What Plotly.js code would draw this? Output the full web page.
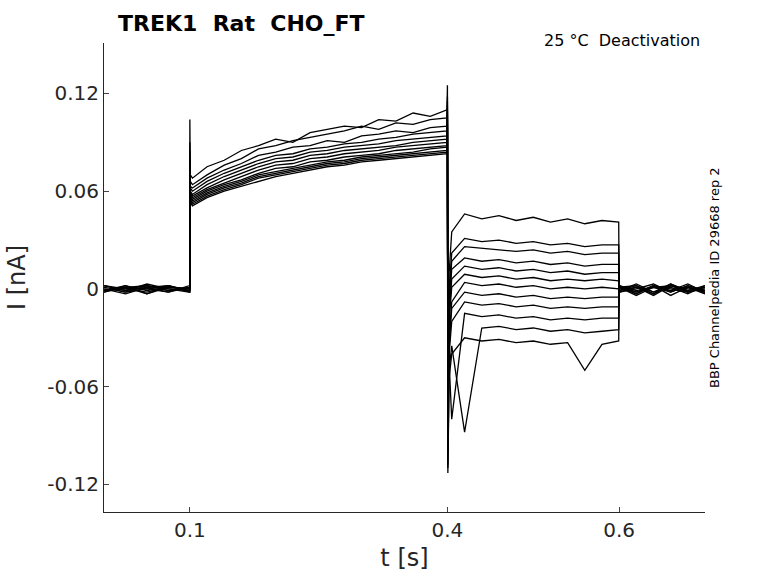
<!DOCTYPE html>
<html>
<head>
<meta charset="utf-8">
<script src="https://cdn.plot.ly/plotly-3.0.1.min.js"></script>
<style>body{margin:0;background:#fff}</style>
</head>
<body>
<div id="chart" style="width:778px;height:583px"></div>
<script>
// time points (s), shared by every sweep
const timeS = [0, 0.025, 0.05, 0.075, 0.0999, 0.1, 0.1005, 0.103, 0.12, 0.14, 0.16, 0.18, 0.2, 0.22, 0.24, 0.26, 0.28, 0.3, 0.32, 0.34, 0.36, 0.38,
  0.3995, 0.4, 0.4005, 0.402, 0.405, 0.42, 0.44, 0.46, 0.48, 0.5, 0.52, 0.54, 0.56, 0.58, 0.5995, 0.6, 0.62, 0.64, 0.66, 0.68, 0.7];

// current (nA) per sweep
const sweep1 = [0.002, -0.001, 0.003, 0.000, -0.002, 0.104, 0.070, 0.068, 0.075, 0.079, 0.085, 0.088, 0.092, 0.090, 0.096, 0.098, 0.100, 0.099, 0.104, 0.103, 0.108, 0.106,
  0.110, 0.125, -0.110, 0.010, 0.035, 0.046, 0.043, 0.045, 0.042, 0.044, 0.041, 0.043, 0.040, 0.042, 0.041, 0.002, -0.003, 0.002, -0.004, 0.001, -0.002];
const sweep2 = [-0.001, 0.002, -0.003, 0.001, 0.000, 0.090, 0.066, 0.064, 0.070, 0.076, 0.080, 0.086, 0.088, 0.091, 0.093, 0.095, 0.097, 0.100, 0.098, 0.102, 0.101, 0.104,
  0.105, 0.118, -0.100, 0.000, 0.022, 0.031, 0.029, 0.030, 0.028, 0.029, 0.027, 0.028, 0.026, 0.027, 0.027, 0.001, 0.002, -0.003, 0.003, -0.001, 0.001];
const sweep3 = [0.001, -0.002, 0.000, 0.002, -0.001, 0.085, 0.063, 0.062, 0.068, 0.073, 0.077, 0.082, 0.084, 0.087, 0.088, 0.091, 0.090, 0.094, 0.095, 0.097, 0.096, 0.099,
  0.100, 0.115, -0.095, -0.005, 0.017, 0.026, 0.025, 0.024, 0.023, 0.024, 0.022, 0.023, 0.021, 0.022, 0.022, -0.002, 0.000, 0.003, -0.002, 0.002, -0.003];
const sweep4 = [-0.002, 0.001, 0.002, -0.001, 0.001, 0.080, 0.062, 0.060, 0.066, 0.071, 0.075, 0.079, 0.082, 0.083, 0.086, 0.087, 0.089, 0.090, 0.092, 0.093, 0.095, 0.096,
  0.097, 0.112, -0.090, -0.010, 0.012, 0.019, 0.017, 0.018, 0.016, 0.017, 0.015, 0.016, 0.014, 0.015, 0.015, 0.001, -0.004, 0.001, 0.002, -0.002, 0.000];
const sweep5 = [0.000, -0.003, 0.001, 0.002, -0.002, 0.078, 0.060, 0.058, 0.064, 0.069, 0.073, 0.077, 0.080, 0.081, 0.084, 0.085, 0.087, 0.088, 0.089, 0.091, 0.092, 0.093,
  0.094, 0.110, -0.085, -0.015, 0.006, 0.014, 0.012, 0.013, 0.011, 0.012, 0.010, 0.011, 0.009, 0.010, 0.010, -0.001, 0.003, -0.002, 0.001, -0.003, 0.002];
const sweep6 = [0.002, 0.000, -0.002, 0.001, 0.000, 0.076, 0.059, 0.057, 0.062, 0.067, 0.071, 0.075, 0.078, 0.079, 0.082, 0.083, 0.085, 0.086, 0.087, 0.088, 0.090, 0.091,
  0.092, 0.108, -0.080, -0.020, 0.001, 0.009, 0.007, 0.008, 0.006, 0.007, 0.005, 0.006, 0.005, 0.006, 0.005, 0.002, -0.002, 0.001, -0.001, 0.003, -0.002];
const sweep7 = [-0.001, 0.001, 0.000, -0.002, 0.002, 0.074, 0.058, 0.056, 0.061, 0.065, 0.069, 0.073, 0.076, 0.077, 0.080, 0.081, 0.083, 0.084, 0.085, 0.087, 0.088, 0.089,
  0.090, 0.106, -0.075, -0.030, -0.008, 0.004, 0.002, 0.003, 0.001, 0.002, 0.000, 0.001, 0.000, 0.001, 0.000, -0.002, 0.001, -0.003, 0.002, 0.000, -0.001];
const sweep8 = [0.001, -0.002, 0.002, 0.000, -0.001, 0.072, 0.057, 0.055, 0.060, 0.064, 0.067, 0.071, 0.074, 0.075, 0.078, 0.079, 0.081, 0.082, 0.083, 0.085, 0.086, 0.087,
  0.088, 0.104, -0.070, -0.035, -0.012, -0.002, -0.004, -0.003, -0.005, -0.004, -0.006, -0.005, -0.006, -0.005, -0.005, 0.001, -0.002, 0.002, -0.001, 0.001, -0.003];
const sweep9 = [-0.002, 0.002, -0.001, 0.001, 0.000, 0.070, 0.056, 0.054, 0.059, 0.063, 0.066, 0.070, 0.072, 0.074, 0.076, 0.078, 0.079, 0.081, 0.082, 0.083, 0.084, 0.086,
  0.087, 0.102, -0.065, -0.040, -0.020, -0.008, -0.010, -0.009, -0.011, -0.010, -0.012, -0.011, -0.012, -0.011, -0.011, -0.001, 0.002, -0.002, 0.003, -0.002, 0.001];
const sweep10 = [0.000, 0.001, -0.003, 0.002, -0.001, 0.068, 0.055, 0.053, 0.058, 0.062, 0.065, 0.069, 0.071, 0.073, 0.075, 0.077, 0.078, 0.080, 0.081, 0.082, 0.083, 0.084,
  0.085, 0.100, -0.060, -0.045, -0.080, -0.015, -0.017, -0.016, -0.018, -0.017, -0.019, -0.018, -0.019, -0.018, -0.018, 0.002, -0.001, 0.001, -0.002, 0.002, -0.001];
const sweep11 = [0.002, -0.001, 0.001, -0.002, 0.001, 0.066, 0.054, 0.052, 0.057, 0.061, 0.064, 0.068, 0.070, 0.072, 0.074, 0.076, 0.077, 0.079, 0.080, 0.081, 0.082, 0.083,
  0.084, 0.098, -0.108, -0.050, -0.035, -0.088, -0.024, -0.023, -0.025, -0.024, -0.026, -0.025, -0.027, -0.026, -0.025, -0.001, 0.001, -0.004, 0.002, -0.001, 0.002];
const sweep12 = [-0.001, 0.000, 0.002, -0.001, 0.001, 0.064, 0.053, 0.051, 0.056, 0.060, 0.063, 0.066, 0.069, 0.071, 0.073, 0.075, 0.076, 0.078, 0.079, 0.080, 0.081, 0.082,
  0.083, 0.096, -0.113, -0.055, -0.040, -0.030, -0.032, -0.031, -0.033, -0.032, -0.034, -0.033, -0.050, -0.034, -0.032, 0.001, -0.003, 0.002, 0.000, -0.002, 0.001];

const sweeps = [sweep1, sweep2, sweep3, sweep4, sweep5, sweep6, sweep7, sweep8, sweep9, sweep10, sweep11, sweep12];
const xTicks = [0.1, 0.4, 0.6];
const yTicks = [-0.12, -0.06, 0, 0.06, 0.12];
const yTickText = ['-0.12', '-0.06', '0', '0.06', '0.12'];

const traces = sweeps.map(current => ({
  x: timeS, y: current, type: 'scatter', mode: 'lines',
  line: {color: '#000', width: 1.3}, hoverinfo: 'skip'
}));

const font = 'DejaVu Sans, sans-serif';
const layout = {
  width: 778, height: 583,
  margin: {l: 104, r: 73, t: 43, b: 71},
  showlegend: false,
  paper_bgcolor: '#fff', plot_bgcolor: '#fff',
  font: {family: font, color: '#262626'},
  xaxis: {
    range: [0, 0.7], tickvals: xTicks, ticktext: ['0.1', '0.4', '0.6'],
    ticks: 'inside', ticklen: 5, showgrid: false, zeroline: false,
    showline: true, linecolor: '#262626', tickfont: {size: 20},
    title: {text: 't [s]', font: {size: 24}, standoff: 8}
  },
  yaxis: {
    range: [-0.137, 0.151], tickvals: yTicks, ticktext: yTickText,
    ticks: 'inside', ticklen: 5, showgrid: false, zeroline: false,
    showline: true, linecolor: '#262626', tickfont: {size: 20},
    title: {text: 'I [nA]', font: {size: 24}, standoff: 14}
  },
  annotations: [
    {text: '<b>TREK1  Rat  CHO_FT</b>', xref: 'paper', yref: 'paper', x: 0.02, y: 1.01,
      xanchor: 'left', yanchor: 'bottom', showarrow: false, font: {size: 22, color: '#000'}},
    {text: '25 °C  Deactivation', xref: 'paper', yref: 'paper', x: 0.995, y: 0.98,
      xanchor: 'right', yanchor: 'bottom', showarrow: false, font: {size: 16, color: '#000'}},
    {text: 'BBP Channelpedia ID 29668 rep 2', xref: 'paper', yref: 'paper', x: 1.0, y: 0.5,
      xanchor: 'left', yanchor: 'middle', textangle: -90, showarrow: false, font: {size: 13, color: '#000'}}
  ]
};

Plotly.newPlot('chart', traces, layout, {displayModeBar: false, staticPlot: true});
</script>
</body>
</html>
